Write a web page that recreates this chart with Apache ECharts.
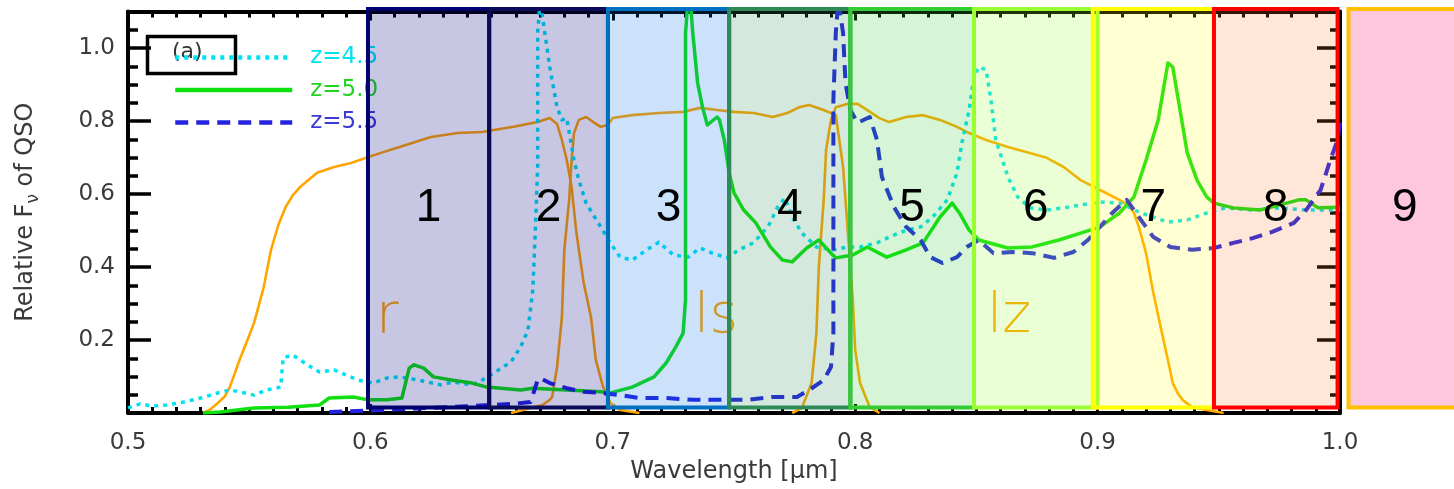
<!DOCTYPE html>
<html>
<head>
<meta charset="utf-8">
<script src="https://cdn.jsdelivr.net/npm/echarts@6/dist/echarts.min.js"></script>
<style>
  html, body { margin: 0; padding: 0; background: #fff; }
  #chart { width: 1454px; height: 489px; }
</style>
</head>
<body>
<div id="chart"></div>
<script>
// QSO template flux (relative F_nu) at three redshifts: [wavelength µm, flux]
const qsoZ45 = [[0.500,0.014],[0.505,0.025],[0.510,0.019],[0.516,0.022],[0.523,0.030],[0.530,0.041],[0.537,0.055],[0.542,0.063],[0.546,0.058],[0.552,0.049],[0.557,0.063],[0.563,0.071],[0.564,0.151],[0.568,0.159],[0.574,0.132],[0.579,0.112],[0.585,0.118],[0.590,0.104],[0.595,0.090],[0.601,0.082],[0.607,0.096],[0.612,0.099],[0.620,0.090],[0.629,0.077],[0.634,0.085],[0.642,0.077],[0.646,0.090],[0.651,0.110],[0.658,0.140],[0.662,0.181],[0.665,0.227],[0.667,0.337],[0.668,0.493],[0.669,0.674],[0.669,0.858],[0.669,1.041],[0.670,1.130],[0.671,1.085],[0.674,0.948],[0.677,0.838],[0.679,0.803],[0.681,0.808],[0.684,0.693],[0.686,0.638],[0.689,0.575],[0.695,0.510],[0.699,0.466],[0.703,0.427],[0.708,0.419],[0.714,0.447],[0.719,0.468],[0.725,0.433],[0.731,0.427],[0.736,0.452],[0.741,0.438],[0.747,0.425],[0.752,0.447],[0.758,0.466],[0.764,0.510],[0.768,0.564],[0.771,0.589],[0.774,0.537],[0.778,0.493],[0.784,0.455],[0.791,0.447],[0.797,0.455],[0.802,0.455],[0.809,0.466],[0.814,0.482],[0.821,0.501],[0.827,0.510],[0.832,0.537],[0.838,0.584],[0.842,0.658],[0.844,0.740],[0.847,0.830],[0.849,0.921],[0.851,0.948],[0.854,0.940],[0.856,0.858],[0.858,0.748],[0.863,0.647],[0.867,0.592],[0.872,0.562],[0.879,0.556],[0.886,0.562],[0.893,0.570],[0.901,0.578],[0.909,0.575],[0.918,0.548],[0.929,0.523],[0.937,0.529],[0.945,0.548],[0.953,0.562],[0.964,0.556],[0.975,0.562],[0.986,0.556],[1.000,0.556]];

const qsoZ50 = [[0.531,0.000],[0.538,0.003],[0.552,0.014],[0.566,0.016],[0.579,0.022],[0.583,0.041],[0.593,0.044],[0.599,0.036],[0.607,0.036],[0.613,0.041],[0.616,0.123],[0.618,0.132],[0.622,0.123],[0.626,0.099],[0.634,0.090],[0.642,0.082],[0.648,0.071],[0.662,0.063],[0.667,0.068],[0.681,0.063],[0.695,0.058],[0.699,0.055],[0.708,0.071],[0.717,0.099],[0.722,0.137],[0.726,0.181],[0.729,0.219],[0.730,0.310],[0.730,0.674],[0.730,1.041],[0.731,1.130],[0.732,1.130],[0.733,1.041],[0.735,0.904],[0.737,0.838],[0.739,0.789],[0.743,0.811],[0.744,0.803],[0.746,0.748],[0.748,0.658],[0.750,0.603],[0.754,0.556],[0.759,0.521],[0.765,0.455],[0.770,0.419],[0.774,0.414],[0.780,0.452],[0.785,0.474],[0.790,0.438],[0.792,0.425],[0.799,0.433],[0.805,0.455],[0.813,0.427],[0.821,0.447],[0.828,0.466],[0.835,0.537],[0.840,0.575],[0.843,0.548],[0.847,0.501],[0.851,0.474],[0.863,0.452],[0.873,0.455],[0.884,0.474],[0.893,0.493],[0.901,0.510],[0.909,0.548],[0.915,0.592],[0.920,0.693],[0.925,0.803],[0.929,0.959],[0.931,0.948],[0.934,0.830],[0.937,0.712],[0.941,0.638],[0.945,0.592],[0.948,0.575],[0.956,0.562],[0.967,0.556],[0.978,0.575],[0.983,0.584],[0.986,0.584],[0.991,0.562],[1.000,0.564]];

const qsoZ55 = [[0.583,0.003],[0.604,0.008],[0.632,0.016],[0.659,0.025],[0.666,0.030],[0.667,0.049],[0.669,0.090],[0.670,0.096],[0.674,0.082],[0.681,0.068],[0.688,0.058],[0.695,0.055],[0.703,0.049],[0.711,0.041],[0.722,0.041],[0.733,0.036],[0.744,0.036],[0.755,0.036],[0.766,0.044],[0.776,0.044],[0.781,0.063],[0.787,0.090],[0.790,0.126],[0.791,0.219],[0.791,0.493],[0.791,0.858],[0.792,1.041],[0.793,1.130],[0.795,1.041],[0.796,0.904],[0.798,0.830],[0.801,0.795],[0.806,0.811],[0.809,0.748],[0.811,0.647],[0.816,0.564],[0.821,0.510],[0.827,0.474],[0.831,0.427],[0.836,0.411],[0.842,0.427],[0.846,0.455],[0.851,0.474],[0.857,0.438],[0.865,0.441],[0.873,0.438],[0.882,0.425],[0.890,0.441],[0.896,0.474],[0.901,0.510],[0.906,0.548],[0.912,0.584],[0.917,0.537],[0.923,0.482],[0.930,0.455],[0.939,0.447],[0.948,0.452],[0.956,0.466],[0.964,0.479],[0.972,0.496],[0.981,0.521],[0.986,0.556],[0.992,0.611],[0.996,0.693],[0.999,0.748],[1.000,0.795]];

// Broad-band filter transmission curves
const filterR = [[0.531,0.000],[0.534,0.010],[0.537,0.027],[0.540,0.046],[0.542,0.071],[0.546,0.145],[0.549,0.195],[0.552,0.247],[0.556,0.345],[0.559,0.447],[0.562,0.515],[0.565,0.564],[0.568,0.597],[0.571,0.619],[0.578,0.658],[0.585,0.674],[0.592,0.685],[0.599,0.701],[0.604,0.712],[0.612,0.729],[0.625,0.756],[0.636,0.767],[0.646,0.770],[0.659,0.784],[0.669,0.797],[0.674,0.808],[0.677,0.792],[0.679,0.748],[0.681,0.693],[0.683,0.619],[0.685,0.493],[0.688,0.356],[0.691,0.263],[0.693,0.145],[0.696,0.071],[0.699,0.027],[0.703,0.008],[0.711,0.000]];

const filterI = [[0.658,0.000],[0.671,0.022],[0.674,0.036],[0.675,0.044],[0.677,0.126],[0.679,0.263],[0.680,0.447],[0.682,0.584],[0.683,0.693],[0.684,0.767],[0.686,0.803],[0.689,0.811],[0.692,0.797],[0.695,0.784],[0.698,0.789],[0.700,0.808],[0.708,0.816],[0.719,0.822],[0.729,0.825],[0.736,0.836],[0.743,0.830],[0.750,0.825],[0.758,0.822],[0.766,0.811],[0.772,0.822],[0.777,0.838],[0.781,0.844],[0.787,0.830],[0.792,0.816],[0.795,0.674],[0.797,0.493],[0.799,0.310],[0.800,0.173],[0.802,0.082],[0.806,0.016],[0.810,0.000]];

const filterZ = [[0.774,0.000],[0.778,0.014],[0.782,0.082],[0.784,0.219],[0.785,0.400],[0.787,0.584],[0.788,0.721],[0.790,0.803],[0.792,0.838],[0.797,0.847],[0.801,0.847],[0.805,0.830],[0.810,0.808],[0.814,0.797],[0.821,0.811],[0.828,0.816],[0.835,0.803],[0.842,0.784],[0.847,0.767],[0.854,0.748],[0.863,0.729],[0.872,0.712],[0.879,0.699],[0.886,0.674],[0.893,0.638],[0.901,0.611],[0.909,0.584],[0.913,0.567],[0.915,0.548],[0.917,0.510],[0.920,0.438],[0.923,0.329],[0.926,0.236],[0.929,0.145],[0.931,0.082],[0.933,0.055],[0.935,0.036],[0.939,0.016],[0.945,0.008],[0.952,0.000]];

// Filter names: [wavelength, height, text]
const filterNames = [[0.607, 0.26, 'r'], [0.7426, 0.26, 'ls'], [0.8635, 0.26, 'lz']];

// Medium bands 1-9 (µm) and their vertical span
const bandStart = [0.599, 0.649, 0.698, 0.748, 0.798, 0.849, 0.898, 0.948, 1.0035];
const bandEnd   = [0.649, 0.698, 0.748, 0.798, 0.849, 0.900, 0.948, 0.999, 1.05];
const bandNames = ['1', '2', '3', '4', '5', '6', '7', '8', '9'];
const bandLow = 0.015;
const bandHigh = 1.107;

// Tick labels
const xTickLabels = ['0.5', '0.6', '0.7', '0.8', '0.9', '1.0'];
const yTickLabels = ['0.2', '0.4', '0.6', '0.8', '1.0'];

// Styling
const bandStroke = ['#00006e', '#0b0b5c', '#0070c0', '#2e8b57', '#33cc33', '#99ff33', '#ffff00', '#ff0000', '#ffc000'];
const bandFill = ['rgba(0,0,128,0.22)', 'rgba(0,0,128,0.22)', 'rgba(0,110,230,0.2)', 'rgba(46,139,87,0.2)',
                  'rgba(51,204,51,0.2)', 'rgba(153,255,51,0.2)', 'rgba(255,255,0,0.18)', 'rgba(250,120,40,0.18)',
                  'rgba(255,0,100,0.22)'];
const cCyan = '#00e2f2', cGreen = '#10e010', cBlue = '#2424e0', cOrange = '#ffa500';
const labelFont = 'DejaVu Sans';

const chart = echarts.init(document.getElementById('chart'), null, { renderer: 'canvas' });

const frameLine = { show: true, onZero: false, lineStyle: { color: '#000', width: 4 } };

function xAxisBase(pos, showLabels) {
  return {
    type: 'value', position: pos, min: 0.5, max: 1.0, interval: 0.1,
    axisLine: frameLine,
    axisTick: { show: true, inside: true, length: 9, lineStyle: { color: '#000', width: 3 } },
    minorTick: { show: true, splitNumber: 10, length: 6, lineStyle: { color: '#000', width: 3 } },
    splitLine: { show: false },
    axisLabel: {
      show: showLabels, margin: 19, fontSize: 23, color: '#3a3a3a', fontFamily: labelFont,
      formatter: v => { const s = v.toFixed(1); return xTickLabels.includes(s) ? s : ''; }
    }
  };
}
function yAxisBase(pos, showLabels) {
  return {
    type: 'value', position: pos, min: 0, max: 1.1, interval: 0.2,
    axisLine: frameLine,
    axisTick: { show: true, inside: true, length: 23, lineStyle: { color: '#000', width: 3.5 } },
    minorTick: { show: true, splitNumber: 4, length: 10, lineStyle: { color: '#000', width: 3.5 } },
    splitLine: { show: false },
    axisLabel: {
      show: showLabels, margin: 13, fontSize: 23, color: '#3a3a3a', fontFamily: labelFont,
      showMinLabel: true, showMaxLabel: true,
      formatter: v => { const s = v.toFixed(1); return yTickLabels.includes(s) ? s : ''; }
    }
  };
}

const xBottom = xAxisBase('bottom', true);
xBottom.name = 'Wavelength [\u03bcm]';
xBottom.nameLocation = 'middle';
xBottom.nameGap = 44;
xBottom.nameTextStyle = { fontSize: 24, color: '#3a3a3a', fontFamily: labelFont };

const yLeft = yAxisBase('left', true);
yLeft.name = 'Relative F{s|\u03bd} of QSO';
yLeft.nameLocation = 'middle';
yLeft.nameGap = 86;
yLeft.nameTextStyle = {
  fontSize: 24, color: '#3a3a3a', fontFamily: labelFont, lineHeight: 32,
  rich: { s: { fontSize: 17, color: '#3a3a3a', fontFamily: labelFont, verticalAlign: 'bottom', lineHeight: 32 } }
};

function spectrum(name, data, color, width, type) {
  return {
    name, type: 'line', data, z: 3, showSymbol: false, symbol: 'none', silent: true,
    lineStyle: { color, width, type, cap: 'butt', join: 'round' }, itemStyle: { color }
  };
}
function filterCurve(name, data) {
  return {
    name, type: 'line', data, z: 2, showSymbol: false, symbol: 'none', silent: true,
    lineStyle: { color: cOrange, width: 2.6, join: 'round' }, itemStyle: { color: cOrange }
  };
}

const option = {
  animation: false,
  backgroundColor: '#fff',
  grid: { left: 128, right: 114, top: 11.5, bottom: 76, containLabel: false },
  xAxis: [xBottom, xAxisBase('top', false)],
  yAxis: [yLeft, yAxisBase('right', false)],
  legend: {
    z: 1,
    orient: 'vertical', left: 168, top: 41,
    itemWidth: 117, itemHeight: 14, itemGap: 9.5,
    itemStyle: { opacity: 0 },
    lineStyle: { width: 4.5 },
    data: [
      { name: 'z=4.5', textStyle: { color: cCyan } },
      { name: 'z=5.0', textStyle: { color: '#22d422' } },
      { name: 'z=5.5', textStyle: { color: '#3a3ad6' } }
    ],
    textStyle: { fontSize: 23, fontFamily: labelFont, padding: [0, 0, 0, 13] }
  },
  graphic: [
    { type: 'rect', z: 1, left: 145, top: 34, shape: { width: 88, height: 37 },
      style: { fill: 'none', stroke: '#000', lineWidth: 3.5 } },
    { type: 'text', z: 1, left: 172, top: 41,
      style: { text: '(a)', fontSize: 22, fill: '#333', fontFamily: labelFont } }
  ],
  series: [
    filterCurve('r', filterR),
    filterCurve('i', filterI),
    filterCurve('z', filterZ),
    spectrum('z=4.5', qsoZ45, cCyan, 3.5, [4, 5]),
    spectrum('z=5.0', qsoZ50, cGreen, 3.5, 'solid'),
    spectrum('z=5.5', qsoZ55, cBlue, 4, [13, 8]),
    {
      name: 'filter names', type: 'custom', z: 3, clip: false, silent: true,
      data: filterNames.map(d => [d[0], d[1]]),
      renderItem(params, api) {
        const p = api.coord([api.value(0), api.value(1)]);
        return {
          type: 'text', x: p[0], y: p[1],
          style: { text: filterNames[params.dataIndex][2], fontSize: 55, fontWeight: 200,
                   fontFamily: labelFont, fill: cOrange, align: 'center', verticalAlign: 'middle' }
        };
      }
    },
    {
      name: 'bands', type: 'custom', z: 5, clip: false, silent: true,
      data: bandNames.map((n, i) => [bandStart[i], bandEnd[i], bandLow, bandHigh]),
      renderItem(params, api) {
        const i = params.dataIndex;
        const tl = api.coord([api.value(0), api.value(3)]);
        const br = api.coord([api.value(1), api.value(2)]);
        return {
          type: 'rect',
          shape: { x: tl[0], y: tl[1], width: br[0] - tl[0], height: br[1] - tl[1] },
          style: { fill: bandFill[i], stroke: bandStroke[i], lineWidth: 4 },
          textContent: { style: { text: bandNames[i], fontSize: 46, fill: '#000',
                                  fontFamily: 'Liberation Sans, Arial, sans-serif' } },
          textConfig: { position: 'inside' }
        };
      }
    }
  ]
};

chart.setOption(option);
</script>
</body>
</html>
